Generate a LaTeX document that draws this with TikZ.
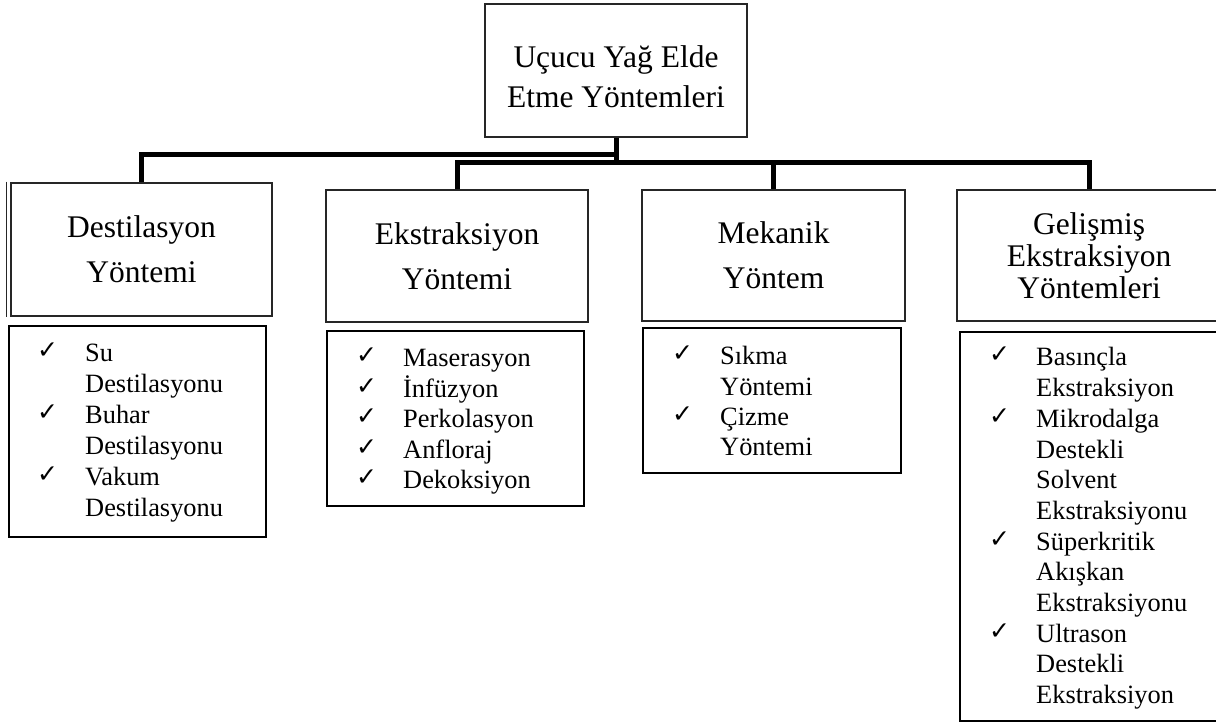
\documentclass[tikz,border=0pt]{standalone}
\usepackage{fontspec}
\setmainfont{Liberation Serif}
\newfontfamily\ckfont{DejaVu Sans}
\newcommand{\ck}{\raisebox{3pt}{\ckfont\fontsize{25}{25}\selectfont ✓}}
\newcommand{\ckcell}[1]{\makebox[#1][l]{\hspace{-2pt}\ck}}
\begin{document}
\begin{tikzpicture}[x=1pt,y=-1pt,
  hbox/.style={draw=black!85, line width=2.8pt, fill=white, align=center, inner sep=0pt, font=\fontsize{31.5}{45}\selectfont},
  lbox/.style={draw=black, line width=1.8pt, fill=white, inner sep=0pt},
  ltext/.style={anchor=north west, inner sep=0pt, align=left},
  conn/.style={line width=5pt, draw=black},
  edge line/.style={line width=1.2pt, draw=black!85}]

\useasboundingbox (0,0) rectangle (1216,724);

% connector bus levels
\coordinate (busA) at (0,154);
\coordinate (busB) at (0,162);

% title
\node[hbox, minimum width=262pt, minimum height=133pt] (top) at (616,70.5) {};
\node[inner sep=0pt, align=center, font=\fontsize{31.5}{40}\selectfont] (toptext) at (616,77) {Uçucu Yağ Elde\\Etme Yöntemleri};

% category boxes
\node[hbox, minimum width=261pt, minimum height=133pt] (b1) at (141.5,249.5) {Destilasyon\\Yöntemi};
\node[hbox, minimum width=262pt, minimum height=132pt] (b2) at (457,256) {Ekstraksiyon\\Yöntemi};
\node[hbox, minimum width=263pt, minimum height=131pt] (b3) at (773.5,255.5) {Mekanik\\Yöntem};
\node[hbox, minimum width=264pt, minimum height=131pt, font=\fontsize{31.5}{32}\selectfont] (b4) at (1089,255.5) {Gelişmiş\\Ekstraksiyon\\Yöntemleri};
\draw[edge line] ([xshift=-3.5pt]b1.north west) -- ([xshift=-3.5pt]b1.south west);

% connectors
\draw[conn] (top.south) -- (top.south |- busB);
\draw[conn] (top.south |- busA) -| (b1.north);
\draw[conn] (b2.north) |- (b4.north |- busB) -- (b4.north);
\draw[conn] (b3.north) -- (b3.north |- busB);

% list boxes
\node[lbox, minimum width=257pt, minimum height=211pt] (l1) at (137.5,431.5) {};
\node[lbox, minimum width=257pt, minimum height=175pt] (l2) at (455.5,418.5) {};
\node[lbox, minimum width=258pt, minimum height=145pt] (l3) at (772,400.5) {};
\node[lbox, minimum width=262pt, minimum height=389pt] (l4) at (1091,526.5) {};

% list texts
\node[ltext, font=\fontsize{26.4}{31}\selectfont] (t1) at (39,340) {%
\begin{tabular}{@{}l@{}l@{}}
\ckcell{46pt} & Su\\
 & Destilasyonu\\
\ckcell{46pt} & Buhar\\
 & Destilasyonu\\
\ckcell{46pt} & Vakum\\
 & Destilasyonu
\end{tabular}};

\node[ltext, font=\fontsize{26.4}{30.2}\selectfont] (t2) at (358,345.6) {%
\begin{tabular}{@{}l@{}l@{}}
\ckcell{45pt} & Maserasyon\\
\ckcell{45pt} & İnfüzyon\\
\ckcell{45pt} & Perkolasyon\\
\ckcell{45pt} & Anfloraj\\
\ckcell{45pt} & Dekoksiyon
\end{tabular}};

\node[ltext, font=\fontsize{26.4}{30.3}\selectfont] (t3) at (674,343.5) {%
\begin{tabular}{@{}l@{}l@{}}
\ckcell{46pt} & Sıkma\\
 & Yöntemi\\
\ckcell{46pt} & Çizme\\
 & Yöntemi
\end{tabular}};

\node[ltext, font=\fontsize{26.4}{30.7}\selectfont] (t4) at (991,344.2) {%
\begin{tabular}{@{}l@{}l@{}}
\ckcell{45pt} & Basınçla\\
 & Ekstraksiyon\\
\ckcell{45pt} & Mikrodalga\\
 & Destekli\\
 & Solvent\\
 & Ekstraksiyonu\\
\ckcell{45pt} & Süperkritik\\
 & Akışkan\\
 & Ekstraksiyonu\\
\ckcell{45pt} & Ultrason\\
 & Destekli\\
 & Ekstraksiyon
\end{tabular}};

\end{tikzpicture}
\end{document}
